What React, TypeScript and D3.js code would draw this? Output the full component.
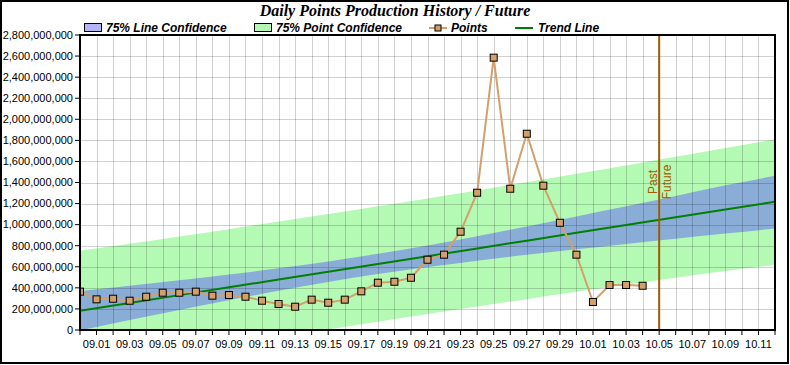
import React from 'react';
import * as d3 from 'd3';

// daily points, in millions
const pointDates = [
  '08.31', '09.01', '09.02', '09.03', '09.04', '09.05', '09.06', '09.07', '09.08', '09.09',
  '09.10', '09.11', '09.12', '09.13', '09.14', '09.15', '09.16', '09.17', '09.18', '09.19',
  '09.20', '09.21', '09.22', '09.23', '09.24', '09.25', '09.26', '09.27', '09.28', '09.29',
  '09.30', '10.01', '10.02', '10.03', '10.04',
];
const pointValues = [
  364, 291, 297, 278, 316, 354, 354, 364, 326, 332,
  316, 278, 247, 221, 288, 259, 288, 367, 449, 458,
  496, 667, 715, 933, 1303, 2585, 1341, 1863, 1370, 1018,
  715, 266, 427, 427, 420,
];

// trend line and confidence bands, sampled every 3 days (millions)
const bandDates = ['08.31', '09.03', '09.06', '09.09', '09.12', '09.15', '09.18', '09.21', '09.24', '09.27', '09.30', '10.03', '10.06', '10.09', '10.12'];
const trendValues = [183, 257, 331, 405, 479, 553, 627, 700, 774, 848, 922, 996, 1070, 1144, 1218];
const lineConfUpper = [370, 420, 472, 527, 586, 650, 723, 803, 890, 982, 1078, 1175, 1273, 1373, 1463];
const lineConfLower = [-4, 94, 190, 283, 372, 456, 531, 597, 658, 714, 766, 817, 867, 915, 963];
const pointConfUpper = [752, 819, 888, 957, 1029, 1101, 1175, 1249, 1325, 1403, 1482, 1562, 1644, 1727, 1810];
const pointConfLower = [-386, -305, -226, -147, -71, 5, 79, 151, 223, 293, 362, 430, 496, 561, 616];

const xTickLabels = [
  '09.01', '09.03', '09.05', '09.07', '09.09', '09.11', '09.13', '09.15', '09.17', '09.19', '09.21',
  '09.23', '09.25', '09.27', '09.29', '10.01', '10.03', '10.05', '10.07', '10.09', '10.11',
];
const yTicks = [0, 200, 400, 600, 800, 1000, 1200, 1400, 1600, 1800, 2000, 2200, 2400, 2600, 2800];
const domainStart = '08.31';
const domainEnd = '10.12';
const splitDate = '10.05';

const parse = (s: string) => {
  const [m, d] = s.split('.').map(Number);
  return new Date(2023, m - 1, d);
};

export default function App() {
  const W = 790, H = 365;
  const L = 80, R = 775, T = 35, B = 330;

  const x = d3.scaleTime().domain([parse(domainStart), parse(domainEnd)]).range([L, R]);
  const y = d3.scaleLinear().domain([0, 2800]).range([B, T]);
  const days = d3.timeDay.range(parse(domainStart), d3.timeDay.offset(parse(domainEnd), 1));

  const bandArea = (up: number[], lo: number[]) =>
    d3.area<number>()
      .x(i => x(parse(bandDates[i])))
      .y0(i => y(lo[i]))
      .y1(i => y(up[i]))
      .curve(d3.curveMonotoneX)(bandDates.map((_, i) => i)) || '';

  const trendPath = d3.line<number>()
    .x(i => x(parse(bandDates[i])))
    .y(i => y(trendValues[i]))(bandDates.map((_, i) => i)) || '';

  const pointsPath = d3.line<number>()
    .x(i => x(parse(pointDates[i])))
    .y(i => y(pointValues[i]))(pointDates.map((_, i) => i)) || '';

  const fmt = d3.format(',');
  const sx = x(parse(splitDate));
  const sans = '"Liberation Sans", Arial, sans-serif';

  return (
    <svg width={W} height={H} style={{ position: 'absolute', left: 0, top: 0, background: '#fff' }}>
      <defs>
        <clipPath id="plot"><rect x={L} y={T} width={R - L} height={B - T} /></clipPath>
      </defs>
      <rect x={1} y={1} width={W - 3} height={H - 3} fill="#fff" stroke="#000" strokeWidth={2} />

      <text x={395} y={16} textAnchor="middle" fontFamily='"Liberation Serif", "Times New Roman", serif'
        fontWeight="bold" fontStyle="italic" fontSize={16}>Daily Points Production History / Future</text>

      {/* legend */}
      <g fontFamily={sans} fontWeight="bold" fontStyle="italic" fontSize={12}>
        <rect x={84.5} y={23.5} width={17} height={8} fill="#b4b4f8" stroke="#000" />
        <text x={106} y={32}>75% Line Confidence</text>
        <rect x={254.5} y={23.5} width={17} height={8} fill="#b4f8b4" stroke="#000" />
        <text x={276} y={32}>75% Point Confidence</text>
        <line x1={429} x2={447} y1={28} y2={28} stroke="#d4a06a" strokeWidth={2} />
        <rect x={435} y={25} width={6} height={6} fill="#d4a06a" stroke="#000" />
        <text x={451} y={32}>Points</text>
        <line x1={515} x2={533} y1={28} y2={28} stroke="#008000" strokeWidth={2} />
        <text x={538} y={32}>Trend Line</text>
      </g>

      <g clipPath="url(#plot)">
        <path d={bandArea(pointConfUpper, pointConfLower)} fill="#b4fab4" />
        <path d={bandArea(lineConfUpper, lineConfLower)} fill="#8aadd8" />
        {days.map((d, i) => (
          <line key={'gx' + i} x1={Math.round(x(d)) + 0.5} x2={Math.round(x(d)) + 0.5} y1={T} y2={B}
            stroke="#000" strokeOpacity={0.18} />
        ))}
        {yTicks.map(v => (
          <line key={'gy' + v} x1={L} x2={R} y1={Math.round(y(v)) + 0.5} y2={Math.round(y(v)) + 0.5}
            stroke="#000" strokeOpacity={0.18} />
        ))}
        <path d={trendPath} fill="none" stroke="#008000" strokeWidth={2} />
        <path d={pointsPath} fill="none" stroke="#d4a06a" strokeWidth={2} />
        {pointValues.map((v, i) => (
          <rect key={'p' + i} x={x(parse(pointDates[i])) - 3.5} y={y(v) - 3.5} width={7} height={7}
            fill="#d4a06a" stroke="#000" strokeWidth={1} />
        ))}
      </g>

      {/* past / future divider */}
      <line x1={sx} x2={sx} y1={T} y2={B} stroke="#a05a00" strokeWidth={2} />
      <text transform={`translate(${sx - 2},182) rotate(-90)`} textAnchor="middle" fontFamily={sans}
        fontSize={12} fill="#a05a00">Past</text>
      <text transform={`translate(${sx + 12},182) rotate(-90)`} textAnchor="middle" fontFamily={sans}
        fontSize={12} fill="#a05a00">Future</text>

      {/* frame */}
      <rect x={L} y={T} width={R - L} height={B - T} fill="none" stroke="#000" strokeWidth={2} />

      {/* y axis */}
      <g fontFamily={sans} fontSize={11}>
        {yTicks.map(v => (
          <g key={'yt' + v}>
            <line x1={L - 5} x2={L} y1={y(v)} y2={y(v)} stroke="#000" />
            <text x={L - 7} y={y(v)} dy="0.35em" textAnchor="end">{fmt(v * 1e6)}</text>
          </g>
        ))}
      </g>

      {/* x axis */}
      <g fontFamily={sans} fontSize={11}>
        {days.map((d, i) => (
          <line key={'xt' + i} x1={x(d)} x2={x(d)} y1={B} y2={B + 5} stroke="#000" />
        ))}
        {xTickLabels.map(s => (
          <text key={'xl' + s} x={x(parse(s))} y={B + 18} textAnchor="middle">{s}</text>
        ))}
      </g>
    </svg>
  );
}
